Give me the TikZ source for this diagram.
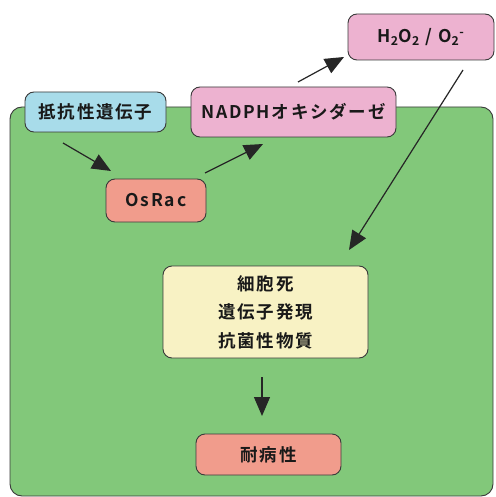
\documentclass[tikz,border=0pt]{standalone}
\usepackage{fontspec}
\newfontfamily\jp[LetterSpace=10]{Noto Sans CJK JP Bold}
\setmainfont{Noto Sans CJK JP Bold}
\usetikzlibrary{arrows.meta}
\definecolor{cellgreen}{HTML}{82C87A}
\definecolor{geneblue}{HTML}{A8DCEA}
\definecolor{rospink}{HTML}{EDB2D0}
\definecolor{racsalmon}{HTML}{F19C8C}
\definecolor{outyellow}{HTML}{F8F2C4}
\definecolor{edgegray}{HTML}{3A3A3A}
\tikzset{
  box/.style={draw=edgegray, line width=0.9pt, rounded corners=9pt, inner sep=0pt, font=\jp\fontsize{17.5}{28.5}\selectfont, text=black!90},
  flow/.style={-{Triangle[length=19pt,width=16pt]}, line width=1.2pt, black!85},
}
\begin{document}
\begin{tikzpicture}[x=1pt,y=-1pt]
\useasboundingbox (0,0) rectangle (495,497);
\fill[white] (0,0) rectangle (495,497);
\node[draw=edgegray, line width=0.9pt, fill=cellgreen, rounded corners=12pt, minimum width=483pt, minimum height=389pt, inner sep=0pt] (cell) at (251.5,301.5) {};
\node[box, fill=geneblue, minimum width=141pt, minimum height=40pt] (gene) at (95.5,112) {抵抗性遺伝子};
\node[box, fill=rospink, minimum width=205pt, minimum height=50pt] (nadph) at (293.5,112) {NADPHオキシダーゼ};
\node[box, fill=rospink, minimum width=146pt, minimum height=46pt] (ros) at (421,37) {H\textsubscript{2}O\textsubscript{2} / O\textsubscript{2}\textsuperscript{-}};
\node[box, fill=racsalmon, minimum width=100pt, minimum height=43pt] (rac) at (156,200.5) {OsRac};
\node[box, fill=outyellow, minimum width=205pt, minimum height=92pt, align=center] (resp) at (265.5,312) {細胞死\\遺伝子発現\\抗菌性物質};
\node[box, fill=racsalmon, minimum width=145pt, minimum height=41pt] (res) at (268.5,454.5) {耐病性};
\coordinate (a1s) at (63,143);
\coordinate (a1e) at (111,171);
\coordinate (a2s) at (205,173);
\coordinate (a2e) at (263,144);
\coordinate (a3s) at (298,82);
\coordinate (a3e) at (344,57);
\coordinate (a4s) at (463,70);
\coordinate (a4e) at (349,250);
\coordinate (a5s) at (262,377);
\coordinate (a5e) at (262,416);
\draw[flow] (a1s) -- (a1e);
\draw[flow] (a2s) -- (a2e);
\draw[flow] (a3s) -- (a3e);
\draw[flow] (a4s) -- (a4e);
\draw[flow] (a5s) -- (a5e);
\end{tikzpicture}
\end{document}
